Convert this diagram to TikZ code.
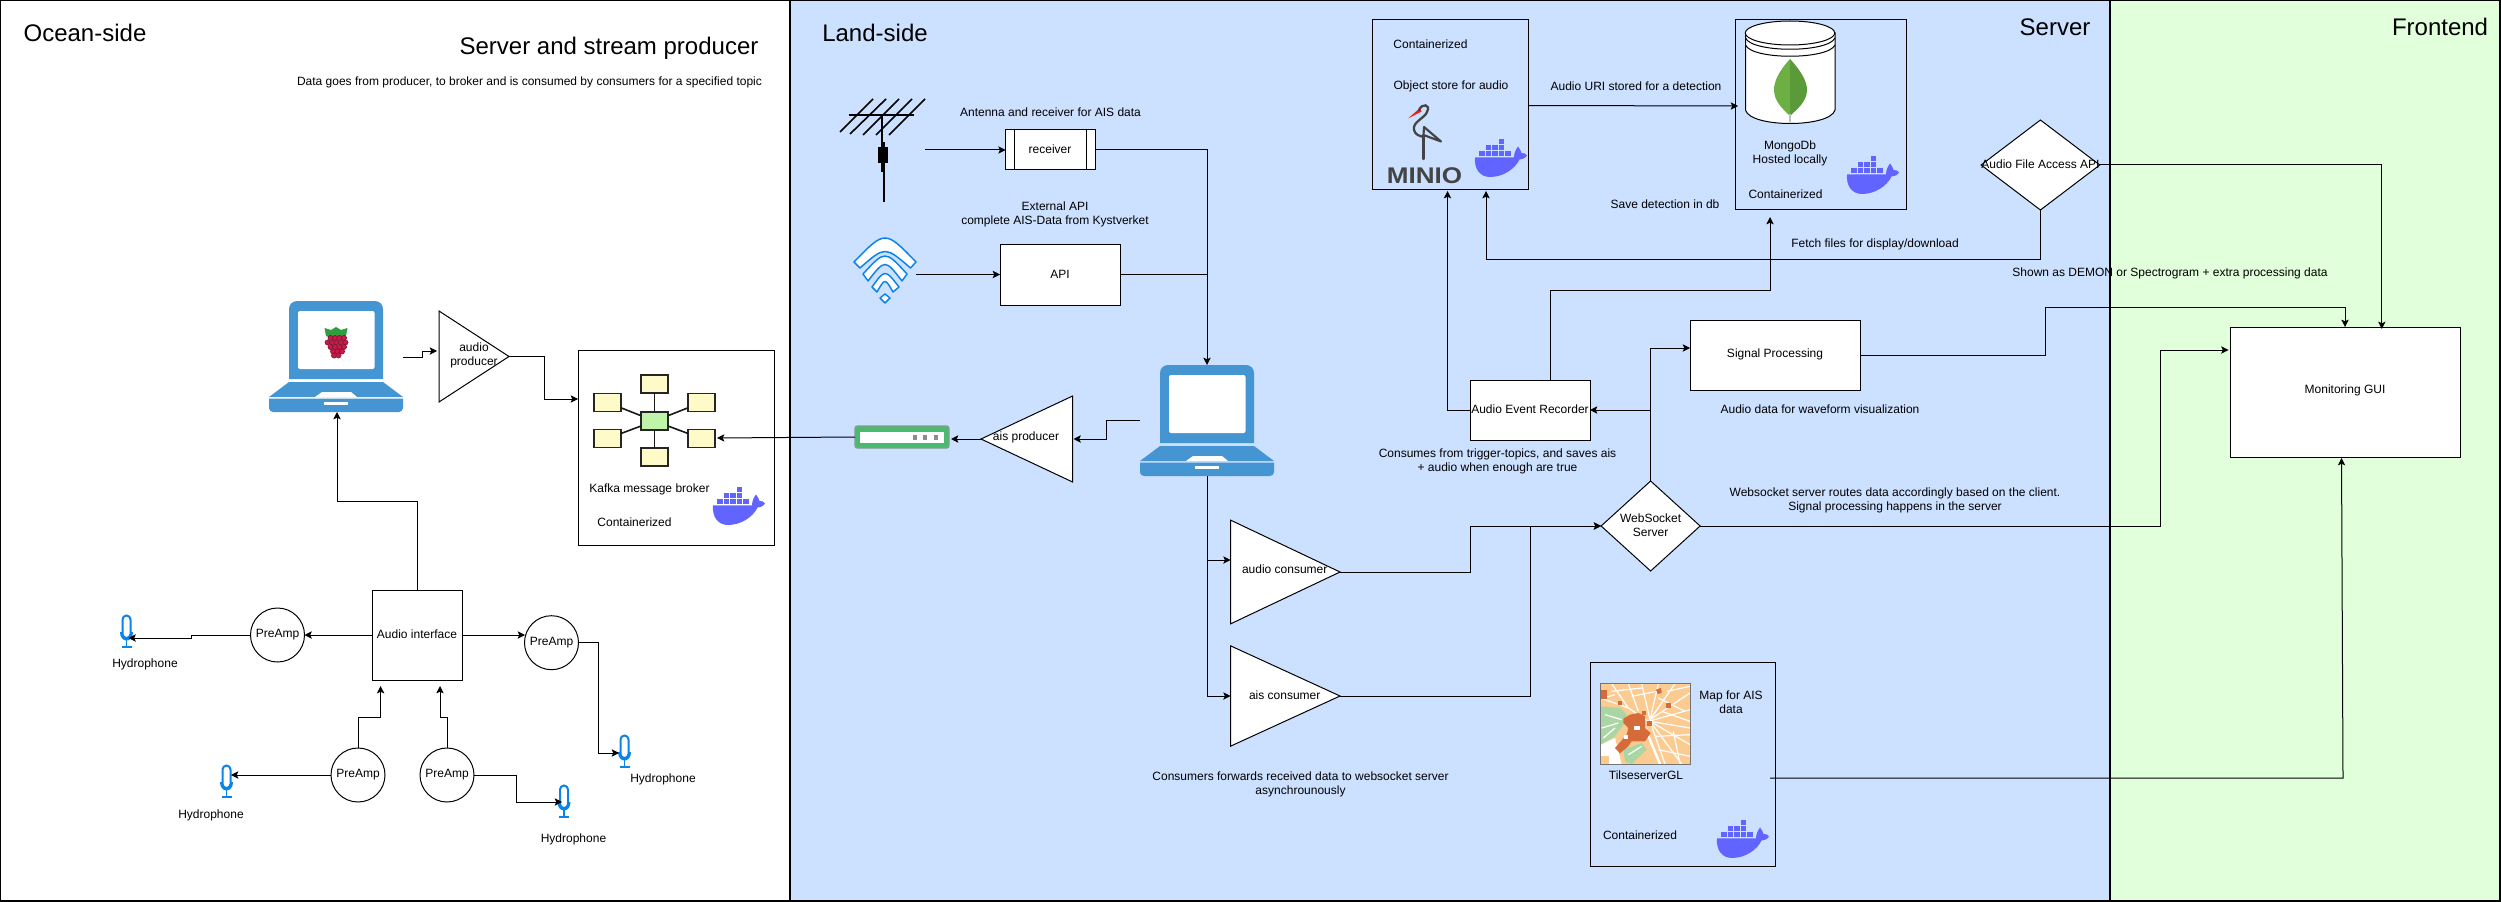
\documentclass[tikz,border=0pt]{standalone}
\usepackage{fontspec}
\setmainfont{Liberation Sans}
\usetikzlibrary{arrows.meta,fit,shapes.geometric}
\newlength\pxu \setlength\pxu{0.75pt}
\definecolor{landblue}{HTML}{CCE0FF}
\definecolor{frontgreen}{HTML}{E0FFDA}
\definecolor{lapblue}{HTML}{4495D1}
\definecolor{dockblue}{HTML}{6264FF}
\definecolor{micblue}{HTML}{0A84E8}
\definecolor{hubyellow}{HTML}{FFFBC8}
\definecolor{hubgreen}{HTML}{BFF5A8}
\definecolor{storkgrey}{HTML}{444444}
\definecolor{mapbase}{HTML}{FBCB92}
\definecolor{mapbrown}{HTML}{D56B3A}
\definecolor{mapgreen}{HTML}{AAD6A4}
\definecolor{leafa}{HTML}{6CB044}
\definecolor{leafb}{HTML}{5A9A38}
\definecolor{rasp}{HTML}{C51A4A}
\definecolor{raspd}{HTML}{7A0F2E}
\definecolor{raspg}{HTML}{2E9E3F}
\definecolor{devg}{HTML}{4CBA6E}
\definecolor{devb}{HTML}{7FA08A}
\tikzset{
  lnk/.style={draw=black,line width=0.75pt,line join=miter},
  conn/.style={lnk,-{Stealth[length=5.5pt,width=5.5pt,inset=1.2pt]}},
  panel/.style={draw=black,line width=0.9pt},
  abox/.style={draw=black,line width=0.75pt,fill=white,inner sep=0pt,outer sep=0pt},
  hollow/.style={draw=black,line width=0.75pt,inner sep=0pt,outer sep=0pt},
  amp/.style={circle,draw=black,line width=0.75pt,fill=white,minimum size=54\pxu,inner sep=0pt,outer sep=0pt,font=\fontsize{9}{10.5}\selectfont},
  dia/.style={diamond,draw=black,line width=0.75pt,fill=white,inner sep=0pt,outer sep=0pt},
  tri/.style={isosceles triangle,isosceles triangle stretches,draw=black,line width=0.75pt,fill=white,inner sep=0pt,outer sep=0pt},
  txt/.style={inner sep=0pt,align=center,font=\fontsize{9}{10.5}\selectfont},
  title/.style={inner sep=0pt,font=\fontsize{18}{21}\selectfont},
  hubnode/.style={rectangle,draw=black!85,line width=1.1pt,minimum width=27\pxu,minimum height=18\pxu,inner sep=0pt,outer sep=0pt},
  spoke/.style={draw=black!90,line width=1.2pt},
}
\newcommand{\dockericon}[2]{%
 \begin{scope}[shift={(#1,#2)}]
  \fill[dockblue] (0,18.3)--(39,18.3) .. controls (39,14) and (41,10) .. (43,7.5) .. controls (45,10) and (46,12) .. (46.5,14) .. controls (49,13.5) and (51,15) .. (52,16.5) .. controls (50,19.5) and (47,20.5) .. (44.5,20.5) .. controls (40,30) and (28,38) .. (15,38) .. controls (5,38) and (-1,30) .. (0,18.3) -- cycle;
  \foreach \k in {0,...,4} {\fill[dockblue] ({4.3+\k*6.5},11.7) rectangle ++(5.3,5);}
  \foreach \k in {1,2,3} {\fill[dockblue] ({4.3+\k*6.5},5.8) rectangle ++(5.3,5);}
  \fill[dockblue] (23.8,0) rectangle ++(5.3,5);
 \end{scope}}
\newcommand{\micicon}[2]{%
 \begin{scope}[shift={(#1,#2)}]
  \draw[micblue,line width=1.5pt,rounded corners=3pt] (-4,23) -- (-4,0.5) -- (4,0.5) -- (4,23) -- cycle;
  \draw[micblue,line width=1.5pt] (-5.5,17) .. controls (-5.5,27) and (5.5,27) .. (5.5,17);
  \draw[micblue,line width=1.3pt] (0,25) -- (0,31);
  \draw[micblue,line width=1.5pt] (-5,31.5) -- (5,31.5);
 \end{scope}}
\newcommand{\laptopicon}[2]{%
 \begin{scope}[shift={(#1,#2)}]
  \fill[lapblue] (289,379) [rounded corners=6pt] -- (289,301) -- (383,301) [sharp corners] -- (383,379) -- cycle;
  \fill[white,rounded corners=1.5pt] (298,311) rectangle (374.5,369);
  \fill[lapblue] (289,382) -- (383,382) -- (403,397) -- (269,397) -- cycle;
  \fill[white] (315,397) -- (322,392) -- (351,392) -- (357,397) -- cycle;
  \fill[lapblue] (269,398.5) -- (403,398.5) [rounded corners=3pt] -- (403,412) -- (269,412) [sharp corners] -- cycle;
  \fill[white] (324,402) rectangle (348,404.5);
 \end{scope}}
\begin{document}
\begin{tikzpicture}[x=0.75pt,y=-0.75pt]
\useasboundingbox (0,0) rectangle (2501,902);
% panels
\node[panel,fill=white,inner sep=0pt,outer sep=0pt,fit={(0.5,0.5)(790,901)}] (ocean) {};
\node[panel,fill=landblue,inner sep=0pt,outer sep=0pt,fit={(790,0.5)(2110,901)}] (land) {};
\node[panel,fill=frontgreen,inner sep=0pt,outer sep=0pt,fit={(2110,0.5)(2500,901)}] (front) {};
\node[title] (toc) at (85,33) {Ocean-side};
\node[title] (tsp) at (609,48) {Server and stream producer};
\node[title] (tla) at (875,33) {Land-side};
\node[title] (tse) at (2055,27) {Server};
\node[title] (tfr) at (2440,27) {Frontend};
\node[txt] (tdata) at (529.5,82) {Data goes from producer, to broker and is consumed by consumers for a specified topic};

% --- ocean side ---
\laptopicon{0}{0}
\node[inner sep=0pt,outer sep=0pt,fit={(269,301)(403,412)}] (lapA) {};
% raspberry
\fill[raspg] (324.5,328) -- (331,330) -- (336,327) -- (341,330) -- (347.5,328) -- (346,336) -- (336,340) -- (326,336) -- cycle;
\foreach \yy/\n/\xs in {338/4/330.5,342.5/5/327.5,347/4/330.5,351.5/3/333,355.5/2/334}{
  \foreach \m in {1,...,\n}{
    \fill[rasp,draw=raspd,line width=0.35pt] ({\xs+(\m-1)*4.5},\yy) circle [radius=2.6];}}
\node[tri,minimum width=91\pxu,minimum height=70\pxu,anchor=apex] (prodA) at (509,356.5) {};
\node[txt] (prodAt) at (474,355) {audio\\producer};
\node[abox,fit={(578,350)(774,545)}] (kafka) {};
\node[hubnode,fill=hubgreen] (hub) at (654.5,421) {};
\node[hubnode,fill=hubyellow] (yt) at (654.5,384) {};
\node[hubnode,fill=hubyellow] (yb) at (654.5,457) {};
\node[hubnode,fill=hubyellow] (ylt) at (607.5,402.5) {};
\node[hubnode,fill=hubyellow] (yrt) at (701.5,402.5) {};
\node[hubnode,fill=hubyellow] (ylb) at (607.5,438.5) {};
\node[hubnode,fill=hubyellow] (yrb) at (701.5,438.5) {};
\foreach \t in {yt,yb,ylt,yrt,ylb,yrb}{\draw[spoke] (hub) -- (\t);}
\node[txt] (kafkat) at (649.5,489) {Kafka message broker};
\node[txt] (kafkac) at (634.5,522) {Containerized};
\dockericon{713}{487}
\node[abox,fit={(372,590)(462,680)}] (ai) {};
\node[txt] (ait) at (417,634) {Audio interface};
\node[amp] (pl) at (277.5,635) {PreAmp};
\node[amp] (pr) at (551.5,642.7) {PreAmp};
\node[amp] (pbl) at (358,775) {PreAmp};
\node[amp] (pbr) at (447,775) {PreAmp};
\micicon{126.5}{615}
\micicon{226.5}{765}
\micicon{564}{785}
\micicon{624.5}{735}
\coordinate (micL) at (128.5,638);
\coordinate (micBL) at (231,775);
\coordinate (micB) at (562,802);
\coordinate (micR) at (619,753);
\node[txt] (hl) at (145,664) {Hydrophone};
\node[txt] (hbl) at (211,815) {Hydrophone};
\node[txt] (hb) at (573.5,839) {Hydrophone};
\node[txt] (hr) at (663,779) {Hydrophone};

\coordinate (lapAout) at (403,357);
\coordinate (prodAin) at (437,351);
\coordinate (kafkaIn) at (578,399);
\coordinate (lapAin) at (337,412);
\coordinate (aiInA) at (380.6,686);
\coordinate (aiInB) at (440,686);
\coordinate (aiW) at (372,635);
\coordinate (aiE) at (462,635);
\coordinate (prIn) at (525,635);
\draw[conn] (lapAout) -- (422,357) -- (422,351) -- (prodAin);
\draw[conn] (prodA.apex) -- (544,356.5) -- (544,399) -- (kafkaIn);
\draw[conn] (ai.north) -- (417,501) -- (337,501) -- (lapAin);
\draw[conn] (aiW) -- (pl.east);
\draw[conn] (aiE) -- (prIn);
\draw[conn] (pl.west) -- (191,635) -- (191,638) -- (micL);
\draw[conn] (pr.east) -- (598,642.7) -- (598,753) -- (micR);
\draw[conn] (pbl.north) -- (358,717) -- (380.6,717) -- (aiInA);
\draw[conn] (pbr.north) -- (447,717) -- (440,717) -- (aiInB);
\draw[conn] (pbl.west) -- (micBL);
\draw[conn] (pbr.east) -- (516,775) -- (516,802) -- (micB);

% --- land side: sources ---
\foreach \a/\b/\c/\d in {840/132/873/99,850/134/886/99,863/135/899/99,876/135/912/99,889/135/925/99}{
  \draw[black,line width=1.2pt] (\a,\b) -- (\c,\d);}
\draw[black,line width=1.6pt] (849,115) -- (914,115);
\draw[black,line width=1.2pt] (882,115) -- (882,172);
\draw[black,line width=1.2pt] (884,142) -- (884,202);
\fill[black] (878,147) rectangle (888,163);
\coordinate (antOut) at (925,150);
\coordinate (wifiOut) at (916,274.5);
% wifi
\begin{scope}[draw=micblue,fill=white,line width=1.1pt,line join=round]
\filldraw (854,262) .. controls (885,230) .. (916,262) -- (910.5,268) .. controls (885,246) .. (860,268) -- cycle;
\filldraw (863,274) .. controls (885,250) .. (907,274) -- (902,281) .. controls (885,259) .. (868,281) -- cycle;
\filldraw (872,287) .. controls (885,269) .. (899,287) -- (893,292) .. controls (885,278) .. (877,292) -- cycle;
\filldraw (880,298) -- (885,294) -- (890,298) -- (885,303) -- cycle;
\end{scope}
\node[abox,fit={(1005.6,130)(1095,170)}] (recv) {};
\draw[lnk] (1014.5,130) -- (1014.5,170);
\draw[lnk] (1086.4,130) -- (1086.4,170);
\node[txt] (recvt) at (1050,149) {receiver};
\node[txt] (antt) at (1050.5,112) {Antenna and receiver for AIS data};
\node[txt] (extt) at (1055,214) {External API\\complete AIS-Data from Kystverket};
\node[abox,fit={(1000,245)(1120,305)}] (api) {};
\node[txt] (apit) at (1060,274) {API};
\laptopicon{871}{64}
\node[inner sep=0pt,outer sep=0pt,fit={(1140,365)(1274,476)}] (lapB) {};
\coordinate (lapBin) at (1207,365);
\coordinate (lapBout) at (1140,420);
\coordinate (lapBdown) at (1207,476);
\node[tri,shape border rotate=180,minimum width=86\pxu,minimum height=91.6\pxu,anchor=apex] (prodB) at (981,439) {};
\node[txt] (prodBt) at (1026,437) {ais producer};
\coordinate (prodBin) at (1073.5,439);
% green device
\node[draw=devb,line width=1.1pt,fill=devg,rounded corners=2pt,inner sep=0pt,outer sep=0pt,fit={(855,426)(949,448)}] (dev) {};
\fill[white] (860,432) rectangle (944,443);
\foreach \q in {915,925,936}{\fill[black!45] (\q-2,435) rectangle (\q+2,439.5);}
\coordinate (devIn) at (951,439);
\coordinate (devOut) at (855,437);
\coordinate (kafkaRb) at (717,438);
\coordinate (apiOut) at (1120,275);
\coordinate (apiJoin) at (1207,275);
\draw[conn] (antOut) -- (recv.west |- antOut);
\draw[conn] (wifiOut) -- (api.west |- wifiOut);
\draw[conn] (recv.east |- antOut) -- (1207,150) -- (lapBin);
\draw[lnk] (apiOut) -- (apiJoin);
\draw[conn] (lapBout) -- (1106,420) -- (1106,439) -- (prodBin);
\draw[conn] (prodB.apex) -- (devIn);
\draw[conn] (devOut) -- (kafkaRb);

% --- MinIO ---
\node[hollow,fit={(1372.5,20)(1528,190)}] (minio) {};
\node[txt] (minC) at (1430.5,44) {Containerized};
\node[txt] (minO) at (1451,86) {Object store for audio};
\fill[red!80!orange] (1408,118.5) -- (1420,108) -- (1421.5,111.5) -- cycle;
\draw[storkgrey,line width=1.7pt,line cap=round] (1419,110) .. controls (1422,103) and (1431,104) .. (1427,112) .. controls (1425,118) and (1412,122) .. (1414,130) .. controls (1415,135) and (1420,136) .. (1423.5,137);
\draw[storkgrey,line width=1.6pt,line join=round] (1424,127) -- (1441,141.5) -- (1423.5,135) -- cycle;
\draw[storkgrey,line width=1.8pt,line cap=round] (1423.5,135) -- (1423.5,159);
\node[inner sep=0pt,font=\bfseries\fontsize{17}{18}\selectfont,text=storkgrey] (minL) at (1424.5,176) {\scalebox{1.15}[1]{MINIO}};
\dockericon{1475}{139}
% --- Mongo ---
\node[hollow,fit={(1735,20)(1906,210)}] (mongo) {};
\filldraw[draw=black,fill=white,line width=0.75pt] (1745.5,33) -- (1745.5,110) .. controls (1750,128) and (1830,128) .. (1835,110) -- (1835,33) -- cycle;
\draw[black,fill=white,line width=0.75pt] (1790,33) ellipse [x radius=44.75,y radius=12];
\draw[black,line width=0.75pt] (1745.5,38) .. controls (1752,53) and (1828,53) .. (1835,38);
\draw[black,line width=0.75pt] (1745.5,45) .. controls (1752,60) and (1828,60) .. (1835,45);
\fill[leafa] (1790,59) .. controls (1778,72) and (1774,82) .. (1774,90) .. controls (1774,102) and (1784,110) .. (1790,116) -- cycle;
\fill[leafb] (1790,59) .. controls (1802,72) and (1807,82) .. (1807,90) .. controls (1807,102) and (1796,110) .. (1790,116) -- cycle;
\draw[black!25,line width=1.2pt] (1790,114) -- (1790,122);
\node[txt] (monT) at (1790,153) {MongoDb\\Hosted locally};
\node[txt] (monC) at (1785.5,194) {Containerized};
\dockericon{1847}{156}
\coordinate (minOut) at (1528,105.5);
\coordinate (monIn) at (1738,106);
\draw[conn] (minOut) -- (monIn);
\node[txt] (uriT) at (1636,86) {Audio URI stored for a detection};
\node[txt] (saveT) at (1665,204) {Save detection in db};
\node[txt] (fetchT) at (1875,244) {Fetch files for display/download};
% --- Audio File Access API ---
\node[dia,minimum width=118.6\pxu,minimum height=90\pxu] (afa) at (2040.4,165) {};
\node[txt] (afaT) at (2040.4,164) {Audio File Access API};
\node[txt] (shownT) at (2170,273.7) {Shown as DEMON or Spectrogram + extra processing data};
% --- recorder etc ---
\node[abox,fit={(1470,380)(1590,440)}] (aer) {};
\node[txt] (aerT) at (1530,409) {Audio Event Recorder};
\node[txt] (consT) at (1497.5,461) {Consumes from trigger-topics, and saves ais\\+ audio when enough are true};
\node[abox,fit={(1690,320)(1860,390)}] (sig) {};
\node[txt] (sigT) at (1775,354) {Signal Processing};
\node[txt] (wfT) at (1820,409) {Audio data for waveform visualization};
\node[dia,minimum width=99\pxu,minimum height=90\pxu] (ws) at (1650.6,526) {};
\node[txt] (wsT) at (1650.6,525) {WebSocket\\Server};
\node[txt] (wsN) at (1895,500) {Websocket server routes data accordingly based on the client.\\Signal processing happens in the server};
% --- GUI ---
\node[abox,fit={(2230.4,327)(2460.8,457)}] (gui) {};
\node[txt] (guiT) at (2345,390.6) {Monitoring GUI};
% --- consumers ---
\node[tri,minimum width=103.7\pxu,minimum height=109.4\pxu,anchor=apex] (audc) at (1340,572) {};
\node[txt] (audcT) at (1284.7,569.7) {audio consumer};
\node[tri,minimum width=100.3\pxu,minimum height=109.4\pxu,anchor=apex] (aisc) at (1340,696) {};
\node[txt] (aiscT) at (1284.7,695) {ais consumer};
\node[txt] (fwdT) at (1300.5,784) {Consumers forwards received data to websocket server\\asynchrounously};
% --- tileserver ---
\node[hollow,fit={(1590,662)(1775.5,866.7)}] (tile) {};
\begin{scope}[shift={(1595,678)},x=0.25pt,y=-0.25pt]
 \begin{scope}
  \clip (17,17) rectangle (285,258);
  \fill[mapbase] (17,17) rectangle (285,258);
  \fill[white] (17,200) -- (60,180) -- (80,258) -- (17,258) -- cycle;
  \fill[mapgreen] (17,85) -- (75,90) -- (95,110) -- (85,140) -- (60,175) -- (17,200) -- cycle;
  \fill[mapgreen] (85,215) -- (140,195) -- (155,215) -- (110,258) -- (90,250) -- cycle;
  \fill[mapbase] (17,235) rectangle (42,258);
  \foreach \xa/\ya/\xb/\yb in {17/60/100/90,100/90/160/130,160/130/285/95,50/17/100/90,100/17/130/100,140/17/165/125,190/17/165/125,240/17/165/125,285/45/165/125,285/150/165/130,285/200/165/130,260/258/165/130,210/258/165/130,190/60/270/100,200/100/285/130,180/175/285/170,190/215/285/235,50/40/140/30,60/50/17/62,110/55/185/40,215/40/285/25,30/110/80/125,20/150/70/135,25/180/60/150,100/230/140/205,235/160/255/258}{
    \draw[white,line width=0.9pt] (\xa,\ya) -- (\xb,\yb);}
  \draw[white,line width=1.8pt] (150,150) -- (195,258);
  \fill[mapbrown] (85,122) -- (105,110) -- (130,105) -- (150,115) -- (150,150) -- (167,165) -- (150,190) -- (110,190) -- (100,205) -- (75,226) -- (60,210) -- (95,170) -- (100,150) -- (85,135) -- cycle;
  \fill[white] (118,145) rectangle (135,155);
  \fill[white] (88,172) rectangle (100,182);
  \fill[mapbrown] (17,35) rectangle (35,62);
  \fill[mapbrown] (183,35) -- (198,30) -- (200,45) -- (188,48) -- cycle;
  \fill[mapbrown] (213,75) rectangle (228,90);
  \fill[mapbrown] (140,100) rectangle (152,110);
  \fill[mapbrown] (155,130) rectangle (172,145);
  \fill[mapbrown] (70,68) rectangle (82,80);
 \end{scope}
 \draw[black!55,line width=0.6pt] (17,17) rectangle (285,258);
\end{scope}
\node[txt] (mapT) at (1731,702) {Map for AIS\\data};
\node[txt] (tileT) at (1646,775.7) {TilseserverGL};
\node[txt] (tileC) at (1640,835.7) {Containerized};
\dockericon{1717}{820}

% --- server connectors ---
\coordinate (aerL) at (1470,410);
\coordinate (minA) at (1447.5,191);
\coordinate (minB) at (1486,191);
\coordinate (monB) at (1770,217);
\coordinate (aerTop) at (1550.6,380);
\coordinate (aerIn) at (1590,410);
\coordinate (sigIn) at (1690,348);
\coordinate (sigOut) at (1860,355);
\coordinate (wsBranch) at (1650.6,410);
\coordinate (lapBranch) at (1207,560);
\coordinate (guiTopA) at (2345,327);
\coordinate (guiTopB) at (2381.8,329);
\coordinate (guiLeft) at (2228.5,350);
\coordinate (guiBot) at (2341.5,458);
\coordinate (tileOut) at (1770,778);
\coordinate (audIn) at (1230.6,560);
\coordinate (aisIn) at (1230.6,696);
\draw[conn] (aerL) -- (1447.5,410) -- (minA);
\draw[conn] (afa.south) -- (2040.4,260) -- (1486,260) -- (minB);
\draw[conn] (aerTop) -- (1550.6,290) -- (1770,290) -- (monB);
\draw[conn] (afa.east) -- (2381.8,165) -- (guiTopB);
\draw[conn] (sigOut) -- (2045.6,355) -- (2045.6,307.3) -- (2345,307.3) -- (guiTopA);
\draw[conn] (ws.north) -- (1650.6,348) -- (sigIn);
\draw[conn] (wsBranch) -- (aerIn);
\draw[conn] (ws.east) -- (2160.6,526) -- (2160.6,350) -- (guiLeft);
\draw[conn] (lapBdown) -- (1207,696) -- (aisIn);
\draw[conn] (lapBranch) -- (audIn);
\draw[conn] (audc.apex) -- (1470,572) -- (1470,526) -- (ws.west);
\draw[conn] (aisc.apex) -- (1530.6,696) -- (1530.6,526) -- (ws.west);
\draw[conn] (tileOut) -- (2343,778) -- (guiBot);
\end{tikzpicture}
\end{document}
